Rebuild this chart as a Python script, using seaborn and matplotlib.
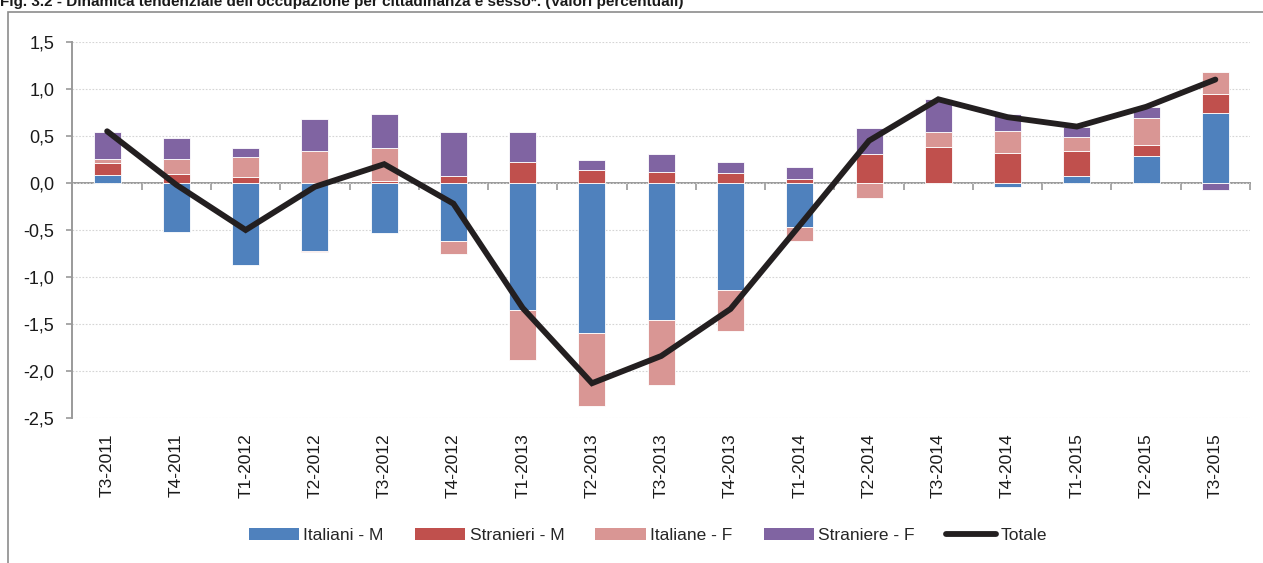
import numpy as np
import matplotlib
matplotlib.use("Agg")
import matplotlib.pyplot as plt
import seaborn as sns
from matplotlib.patches import Patch, Rectangle
from matplotlib.lines import Line2D
from matplotlib.ticker import FuncFormatter

# quarters on the x axis
trimestri = ['T3-2011', 'T4-2011', 'T1-2012', 'T2-2012', 'T3-2012', 'T4-2012',
             'T1-2013', 'T2-2013', 'T3-2013', 'T4-2013', 'T1-2014', 'T2-2014',
             'T3-2014', 'T4-2014', 'T1-2015', 'T2-2015', 'T3-2015']

# contributions (percentage points)
italiani_m = [0.09, -0.52, -0.87, -0.72, -0.53, -0.62, -1.35, -1.60, -1.46,
              -1.14, -0.47, 0.00, 0.00, -0.04, 0.07, 0.29, 0.74]
stranieri_m = [0.12, 0.10, 0.06, -0.01, 0.02, 0.07, 0.22, 0.14, 0.12,
               0.11, 0.04, 0.31, 0.38, 0.32, 0.27, 0.11, 0.21]
italiane_f = [0.04, 0.15, 0.22, 0.34, 0.35, -0.14, -0.53, -0.77, -0.69,
              -0.43, -0.15, -0.16, 0.16, 0.23, 0.15, 0.29, 0.23]
straniere_f = [0.29, 0.23, 0.09, 0.34, 0.36, 0.47, 0.32, 0.10, 0.19,
               0.11, 0.13, 0.28, 0.35, 0.18, 0.11, 0.12, -0.08]
totale = [0.55, -0.02, -0.50, -0.04, 0.20, -0.22, -1.33, -2.13, -1.84,
          -1.34, -0.45, 0.45, 0.89, 0.70, 0.60, 0.81, 1.10]

serie = [('Italiani - M', italiani_m, '#4F81BD'),
         ('Stranieri - M', stranieri_m, '#C0504D'),
         ('Italiane - F', italiane_f, '#D99694'),
         ('Straniere - F', straniere_f, '#8064A2')]

sns.set_theme(style='white')
plt.rcParams['font.family'] = ['Liberation Sans', 'DejaVu Sans']

fig = plt.figure(figsize=(12.63, 5.63), dpi=100)
ax = fig.add_axes([0.0574, 0.2575, 0.9323, 0.668])

# stacked bars, positives upward and negatives downward (Excel style)
pos_base = np.zeros(len(trimestri))
neg_base = np.zeros(len(trimestri))
for nome, vals, col in serie:
    v = np.array(vals)
    bottom = np.where(v >= 0, pos_base, neg_base)
    sns.barplot(x=trimestri, y=v, bottom=bottom, color=col, saturation=1,
                width=0.39, errorbar=None, edgecolor='white', linewidth=0.6, ax=ax)
    pos_base = pos_base + np.clip(v, 0, None)
    neg_base = neg_base + np.clip(v, None, 0)

sns.lineplot(x=np.arange(len(trimestri)), y=totale, color='#231F20', lw=4.2,
             solid_joinstyle='miter', ax=ax)

ylo, yhi = -2.5, 1.5
ax.set_ylim(ylo, yhi)
ax.set_xlim(-0.5, len(trimestri) - 0.5)
ax.set_yticks(np.arange(-2.5, 1.51, 0.5))
ax.yaxis.set_major_formatter(FuncFormatter(lambda v, p: f'{v:.1f}'.replace('.', ',')))
ax.set_xticks(np.arange(len(trimestri)))
ax.set_xticklabels(trimestri, rotation=90)
ax.set_xlabel('')
ax.set_ylabel('')

ax.set_axisbelow(True)
ax.yaxis.grid(True, color='#D5D5D5', linestyle=(0, (1.5, 1.5)), lw=0.8)
for s in ['top', 'right', 'bottom']:
    ax.spines[s].set_visible(False)
ax.spines['left'].set_color('#9A9A9A')
ax.spines['left'].set_linewidth(1.4)
ax.tick_params(axis='y', direction='out', length=4, width=1.2, color='#9A9A9A',
               pad=9, labelsize=13, labelcolor='#1A1A1A', left=True)
ax.tick_params(axis='x', length=0, pad=11, labelsize=12.5, labelcolor='#1A1A1A')

# category axis drawn at zero with ticks between the quarters
sec = ax.secondary_xaxis((0 - ylo) / (yhi - ylo))
sec.set_alignment('bottom')
sec.set_xticks(np.arange(len(trimestri) + 1) - 0.5)
sec.tick_params(axis='x', direction='out', length=5, width=1.2, color='#9A9A9A',
                labelbottom=False, labeltop=False)
sec.spines['bottom'].set_color('#9A9A9A')
sec.spines['bottom'].set_linewidth(1.4)

handles = [Patch(facecolor=c, edgecolor='none', label=n) for n, _, c in serie]
handles.append(Line2D([], [], color='#231F20', lw=4.2, label='Totale'))
fig.legend(handles=handles, loc='center', bbox_to_anchor=(0.513, 0.049), ncol=5,
           frameon=False, fontsize=12.5, handlelength=2.9, handleheight=0.75,
           handletextpad=0.25, columnspacing=1.8)

# outer frame of the figure box
fig.patches.append(Rectangle((8 / 1263, -0.05), 1.2, 1 - 12 / 563 + 0.05,
                             transform=fig.transFigure, fill=False,
                             edgecolor='#8C8C8C', lw=1.2))

fig.text(0.0, 1 - 6 / 563,
         "Fig. 3.2 - Dinamica tendenziale dell'occupazione per cittadinanza e sesso*. (Valori percentuali)",
         fontsize=11, fontweight='bold', va='baseline', ha='left', color='#1A1A1A')

fig.savefig('out.png', dpi=100)
